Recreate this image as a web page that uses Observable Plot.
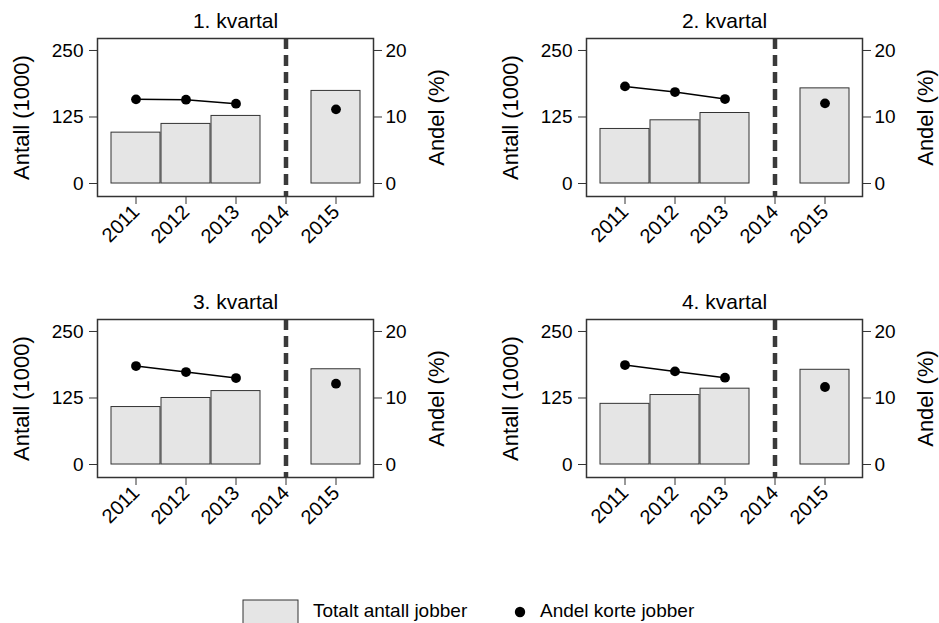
<!DOCTYPE html>
<html><head><meta charset="utf-8">
<script src="https://cdn.jsdelivr.net/npm/d3@7"></script>
<script src="https://cdn.jsdelivr.net/npm/@observablehq/plot@0.6"></script>
<style>
body{margin:0;background:#fff;font-family:"Liberation Sans",Arial,sans-serif;}
#wrap{position:relative;width:939px;height:623px;overflow:hidden;background:#fff;}
.panel{position:absolute;}
#legend{position:absolute;left:0;top:590px;}
</style></head><body><div id="wrap"></div>
<script>
// ---- data ----
const years = ["2011", "2012", "2013", "2014", "2015"];
const quarters = ["1. kvartal", "2. kvartal", "3. kvartal", "4. kvartal"];
const barYears = ["2011", "2012", "2013", "2015"];
const totalJobs = [
  [95.6, 112, 127, 174],
  [102.5, 118.8, 132.5, 178.8],
  [108, 125, 138, 179],
  [114, 130.6, 142.5, 178]
];
const shareShort = [
  [12.65, 12.6, 12.0, 11.15],
  [14.6, 13.75, 12.7, 12.05],
  [14.8, 13.9, 13.0, 12.15],
  [14.95, 14.0, 13.05, 11.65]
];
const leftTicks = [0, 125, 250];
const rightTicks = [0, 10, 20];
const breakYear = "2014";
const leftTitle = "Antall (1000)";
const rightTitle = "Andel (%)";
const legendLabels = ["Totalt antall jobber", "Andel korte jobber"];

// ---- drawing ----
const k = leftTicks[leftTicks.length - 1] / rightTicks[rightTicks.length - 1];
const font = '"Liberation Sans", Arial, sans-serif';
const wrap = document.getElementById("wrap");
const positions = [[0, 0], [489, 0], [0, 281], [489, 281]];

quarters.forEach((q, i) => {
  const rows = barYears.map((yr, j) => ({year: yr, total: totalJobs[i][j], share: shareShort[i][j]}));
  const lineRows = rows.filter(d => +d.year < +breakYear);
  const chart = Plot.plot({
    width: 450, height: 281,
    marginLeft: 97, marginRight: 77, marginTop: 38, marginBottom: 85,
    style: {fontFamily: font, fontSize: "19px", color: "#000", background: "transparent", overflow: "visible"},
    x: {type: "band", domain: years, paddingInner: 0.025, paddingOuter: 0.256},
    y: {domain: [-24.4, 272.5]},
    marks: [
      Plot.barY(rows, {x: "year", y: "total", fill: "#e5e5e5", stroke: "#333", strokeWidth: 1}),
      Plot.ruleX([breakYear], {stroke: "#3a3a3a", strokeWidth: 4.5, strokeDasharray: "11,6"}),
      Plot.line(lineRows, {x: "year", y: d => d.share * k, stroke: "#000", strokeWidth: 1.5}),
      Plot.dot(rows, {x: "year", y: d => d.share * k, r: 4.9, fill: "#000", stroke: "none"}),
      Plot.frame({stroke: "#333", strokeWidth: 1.5}),
      Plot.axisY(leftTicks, {anchor: "left", tickSize: 8, tickPadding: 6, fontSize: 19, label: null, stroke: "#333"}),
      Plot.axisY(rightTicks.map(v => v * k), {anchor: "right", tickSize: 8, tickPadding: 4, fontSize: 19, label: null, tickFormat: d => String(d / k), stroke: "#333"}),
      Plot.axisX(years, {anchor: "bottom", tickSize: 8, tickPadding: 4, tickRotate: -45, fontSize: 20, label: null, stroke: "#333"}),
      Plot.text([q], {frameAnchor: "top", textAnchor: "middle", lineAnchor: "middle", dy: -17, fontSize: 21, fill: "#000"}),
      Plot.text([leftTitle], {frameAnchor: "left", textAnchor: "middle", lineAnchor: "middle", rotate: -90, dx: -76, fontSize: 22, fill: "#000"}),
      Plot.text([rightTitle], {frameAnchor: "right", textAnchor: "middle", lineAnchor: "middle", rotate: -90, dx: 63, fontSize: 22, fill: "#000"})
    ]
  });
  chart.classList.add("panel");
  chart.style.left = positions[i][0] + "px";
  chart.style.top = positions[i][1] + "px";
  wrap.appendChild(chart);
});

// legend
const lg = d3.create("svg").attr("id", "legend").attr("width", 939).attr("height", 40)
  .style("font-family", font);
lg.append("rect").attr("x", 243).attr("y", 10).attr("width", 55).attr("height", 26)
  .attr("fill", "#e5e5e5").attr("stroke", "#333").attr("stroke-width", 1);
lg.append("text").attr("x", 313).attr("y", 27).attr("font-size", 19).attr("fill", "#000").text(legendLabels[0]);
lg.append("circle").attr("cx", 520).attr("cy", 22).attr("r", 5.2).attr("fill", "#000");
lg.append("text").attr("x", 540).attr("y", 27).attr("font-size", 19).attr("fill", "#000").text(legendLabels[1]);
wrap.appendChild(lg.node());
</script>
</body></html>
